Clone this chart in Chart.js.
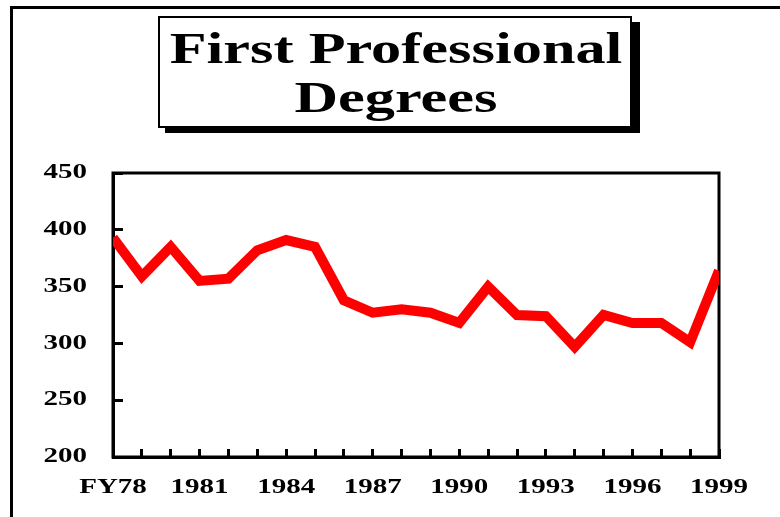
<!DOCTYPE html>
<html>
<head>
<meta charset="utf-8">
<script src="https://cdn.jsdelivr.net/npm/chart.js@4.4.1/dist/chart.umd.min.js"></script>
<style>
  html, body { margin: 0; padding: 0; background: #ffffff; }
  #wrap { width: 780px; height: 517px; position: relative; }
</style>
</head>
<body>
<div id="wrap"><canvas id="c" width="780" height="517"></canvas></div>
<script>
// ---- data ----
const years = ['FY78','1979','1980','1981','1982','1983','1984','1985','1986','1987','1988',
               '1989','1990','1991','1992','1993','1994','1995','1996','1997','1998','1999'];
const degrees = [393, 359, 385, 355, 357, 382, 391, 385, 338, 327, 330,
                 327, 318, 350, 325, 324, 297, 325, 318, 318, 301, 364];
const shownLabels = ['FY78','1981','1984','1987','1990','1993','1996','1999'];
const yTicks = [200, 250, 300, 350, 400, 450];
const titleLines = ['First Professional', 'Degrees'];

const FONT = "'Liberation Serif', 'Times New Roman', serif";

// stretch tick label glyphs horizontally (reference text is wide)
function stretchLabels(scale, sx) {
  if (scale._stretched) return;
  const orig = scale.drawLabels;
  scale.drawLabels = function(area) {
    const ctx = this.ctx;
    const r = ctx.rotate;
    ctx.rotate = function(a) { r.call(ctx, a); ctx.scale(sx, 1); };
    try { orig.call(this, area); } finally { ctx.rotate = r; }
  };
  scale._stretched = true;
}

const decorPlugin = {
  id: 'decor',
  beforeDraw(chart) {
    stretchLabels(chart.scales.x, 1.45);
    stretchLabels(chart.scales.y, 1.45);
    const ctx = chart.ctx;
    ctx.save();
    // outer frame (top and left lines)
    ctx.strokeStyle = '#000';
    ctx.lineWidth = 3;
    ctx.beginPath();
    ctx.moveTo(11.5, 517);
    ctx.lineTo(11.5, 7.5);
    ctx.lineTo(780, 7.5);
    ctx.stroke();
    // title box with shadow
    ctx.fillStyle = '#000';
    ctx.fillRect(165, 22, 475, 111);
    ctx.fillStyle = '#fff';
    ctx.fillRect(158, 16, 474, 112);
    ctx.lineWidth = 2;
    ctx.strokeStyle = '#000';
    ctx.strokeRect(159, 17, 472, 110);
    // title text
    ctx.fillStyle = '#000';
    ctx.font = "bold 44px " + FONT;
    ctx.textAlign = 'center';
    ctx.textBaseline = 'alphabetic';
    const cx = 396;
    const baselines = [62.5, 112];
    titleLines.forEach((t, i) => {
      ctx.save();
      ctx.translate(cx, baselines[i]);
      ctx.scale(1.37, 1);
      ctx.fillText(t, 0, 0);
      ctx.restore();
    });
    ctx.restore();
  },
  beforeDatasetsDraw(chart) {
    const a = chart.chartArea;
    const ctx = chart.ctx;
    ctx.save();
    ctx.strokeStyle = '#000';
    ctx.lineWidth = 3;
    ctx.strokeRect(a.left, a.top, a.right - a.left, a.bottom - a.top);
    ctx.restore();
  }
};

new Chart(document.getElementById('c'), {
  type: 'line',
  data: {
    labels: years,
    datasets: [{
      data: degrees,
      borderColor: '#ff0000',
      backgroundColor: '#ff0000',
      borderWidth: 10,
      pointRadius: 0,
      pointHoverRadius: 0,
      tension: 0,
      fill: false,
      clip: 0,
      borderJoinStyle: 'miter'
    }]
  },
  options: {
    responsive: false,
    animation: false,
    events: [],
    layout: { padding: { left: 0, right: 61, top: 173, bottom: 0 } },
    plugins: { legend: { display: false }, title: { display: false }, tooltip: { enabled: false } },
    scales: {
      x: {
        type: 'category',
        offset: false,
        grid: { drawOnChartArea: false, drawTicks: true, tickLength: -8, color: '#000', lineWidth: 3 },
        border: { display: true, color: '#000', width: 3 },
        ticks: {
          autoSkip: false,
          maxRotation: 0,
          minRotation: 0,
          padding: 27,
          color: '#000',
          font: { family: FONT, size: 20, weight: 'bold' },
          callback: function(value, index) {
            const l = years[index];
            return shownLabels.includes(l) ? l : '';
          }
        },
        afterFit(scale) { scale.height = 60; }
      },
      y: {
        min: 200,
        max: 450,
        grid: { drawOnChartArea: false, drawTicks: true, tickLength: -10, color: '#000', lineWidth: 3 },
        border: { display: true, color: '#000', width: 3 },
        afterBuildTicks(scale) { scale.ticks = yTicks.map(v => ({ value: v })); },
        ticks: {
          padding: 36,
          color: '#000',
          font: { family: FONT, size: 20, weight: 'bold' },
          callback: v => String(v)
        },
        afterFit(scale) { scale.width = 113; }
      }
    }
  },
  plugins: [decorPlugin]
});
</script>
</body>
</html>
